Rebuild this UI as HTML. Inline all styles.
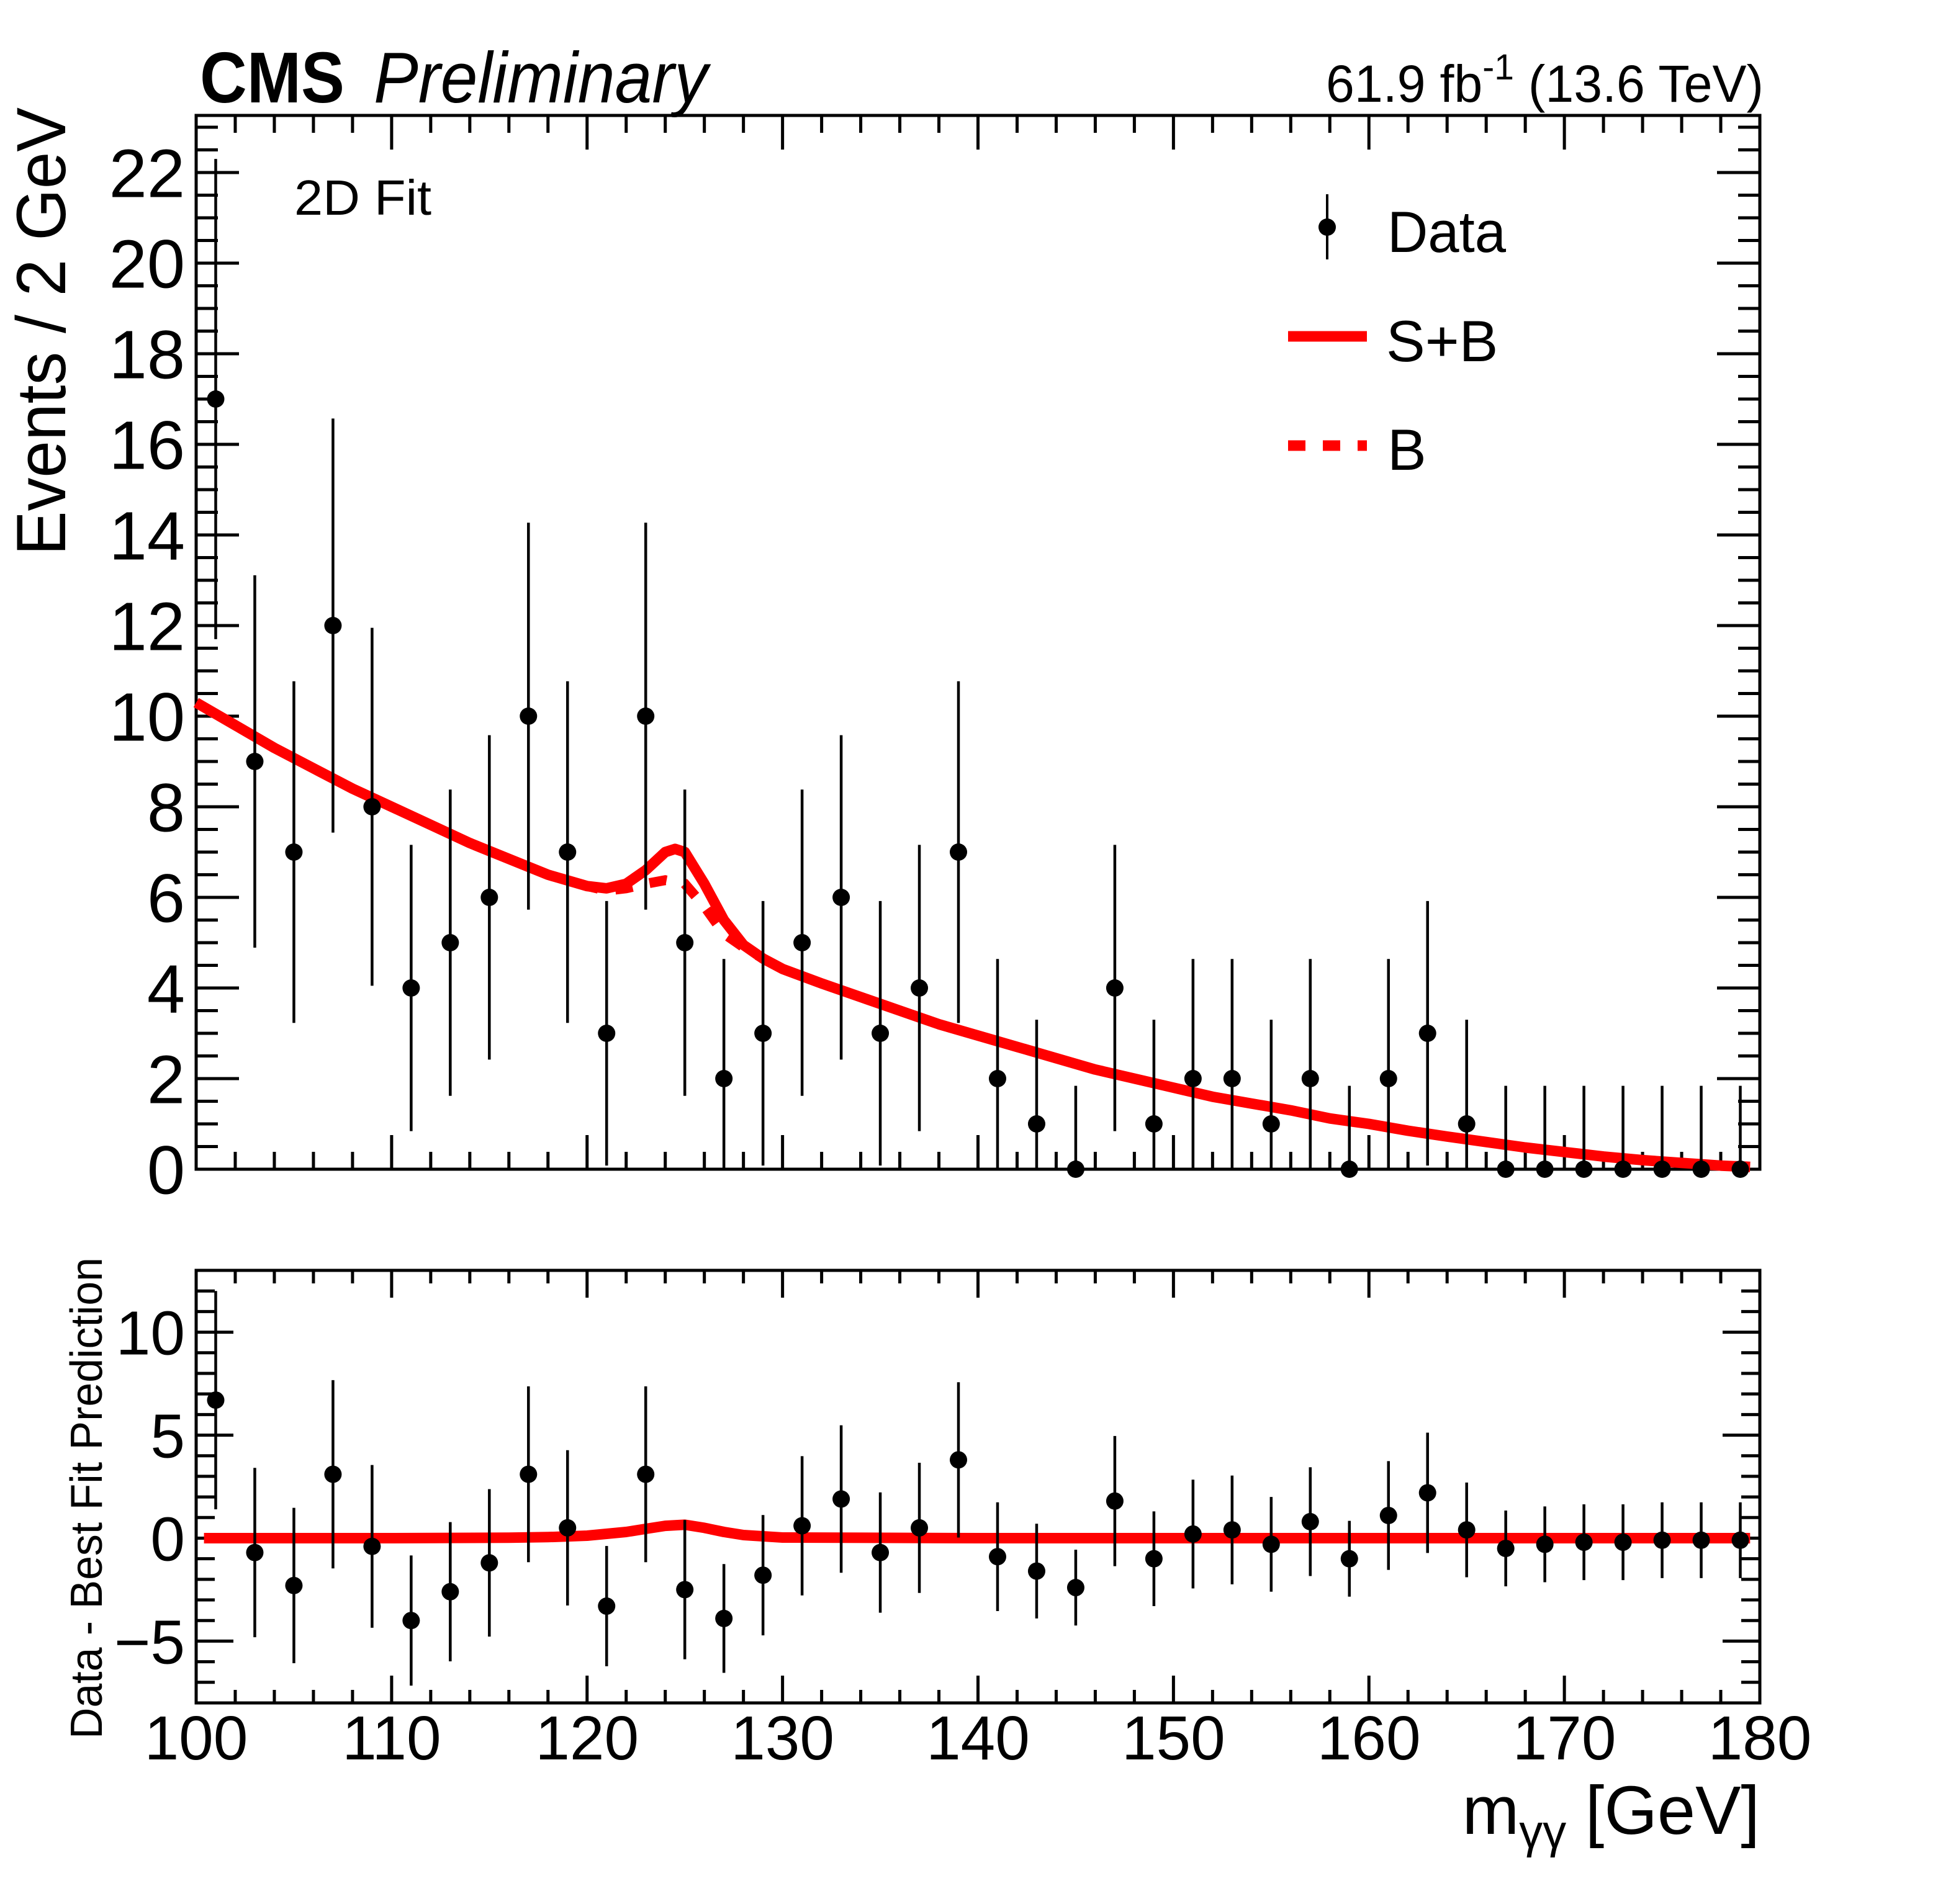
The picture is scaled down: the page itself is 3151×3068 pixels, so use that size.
<!DOCTYPE html>
<html><head><meta charset="utf-8"><style>
html,body{margin:0;padding:0;background:#fff;}
svg{display:block;}
text{font-family:"Liberation Sans",Arial,sans-serif;fill:#000;}
</style></head><body>
<svg id="chart" xmlns="http://www.w3.org/2000/svg" width="3151" height="3068" viewBox="0 0 3151 3068">
<rect x="0" y="0" width="3151" height="3068" fill="#fff"/>
<g id="main-panel"></g>
<g id="ratio-panel"></g>
<text x="322" y="165" font-size="116" font-weight="bold" textLength="233" lengthAdjust="spacingAndGlyphs">CMS</text>
<text x="602" y="165" font-size="116" font-style="italic" textLength="538" lengthAdjust="spacingAndGlyphs">Preliminary</text>
<text x="2136" y="164" font-size="84" textLength="705" lengthAdjust="spacingAndGlyphs">61.9 fb<tspan dy="-36" font-size="58">-1</tspan><tspan dy="36"> (13.6 TeV)</tspan></text>
<text x="474" y="346" font-size="80" textLength="221" lengthAdjust="spacingAndGlyphs">2D Fit</text>
<g>
  <line x1="2138" y1="313" x2="2138" y2="418" stroke="#000" stroke-width="4"/>
  <circle cx="2138" cy="366" r="14" fill="#000"/>
  <text x="2235" y="406" font-size="94" textLength="191" lengthAdjust="spacingAndGlyphs">Data</text>
  <line x1="2075" y1="542" x2="2202" y2="542" stroke="#f00" stroke-width="17"/>
  <text x="2233" y="582" font-size="94">S+B</text>
  <line x1="2075" y1="718" x2="2202" y2="718" stroke="#f00" stroke-width="17" stroke-dasharray="28,28"/>
  <text x="2235" y="757" font-size="94">B</text>
</g>
<text transform="translate(105,895) rotate(-90)" x="0" y="0" font-size="112" textLength="722" lengthAdjust="spacingAndGlyphs">Events / 2 GeV</text>
<text transform="translate(164,2802) rotate(-90)" x="0" y="0" font-size="72" textLength="776" lengthAdjust="spacingAndGlyphs">Data - Best Fit Prediction</text>
<text x="2835" y="2955" font-size="110" text-anchor="end">m<tspan font-size="76" dy="22">γγ</tspan><tspan dy="-22"> [GeV]</tspan></text>
</svg>
<script>
var binCenters=[101,103,105,107,109,111,113,115,117,119,121,123,125,127,129,131,133,135,137,139,141,143,145,147,149,151,153,155,157,159,161,163,165,167,169,171,173,175,177,179];
var counts=[17,9,7,12,8,4,5,6,10,7,3,10,5,2,3,5,6,3,4,7,2,1,0,4,1,2,2,1,2,0,2,3,1,0,0,0,0,0,0,0];
var errUp=[5.3,4.11,3.77,4.57,3.95,3.16,3.38,3.58,4.27,3.77,2.92,4.27,3.38,2.64,2.92,3.38,3.58,2.92,3.16,3.77,2.64,2.3,1.84,3.16,2.3,2.64,2.64,2.3,2.64,1.84,2.64,2.92,2.3,1.84,1.84,1.84,1.84,1.84,1.84,1.84];
var residuals=[6.7,-0.7,-2.3,3.1,-0.4,-4.0,-2.6,-1.2,3.1,0.5,-3.3,3.1,-2.5,-3.9,-1.8,0.6,1.9,-0.7,0.5,3.8,-0.9,-1.6,-2.4,1.8,-1.0,0.2,0.4,-0.3,0.8,-1.0,1.1,2.2,0.4,-0.5,-0.3,-0.2,-0.2,-0.1,-0.1,-0.1];
var sbX=[100,102,104,106,108,110,112,114,116,118,120,121,122,123,124,124.5,125,126,127,128,129,130,132,134,136,138,140,142,144,146,148,150,152,154,156,158,160,162,164,166,168,170,172,174,176,178,179.5];
var sbY=[10.3,9.8,9.3,8.85,8.4,8.0,7.6,7.2,6.85,6.5,6.25,6.2,6.3,6.6,7.0,7.07,7.0,6.3,5.5,4.95,4.65,4.42,4.1,3.8,3.5,3.2,2.95,2.7,2.45,2.2,2.0,1.8,1.6,1.45,1.3,1.12,1.0,0.85,0.72,0.6,0.48,0.38,0.28,0.2,0.14,0.08,0.05];
var bX=[118,120,121,122,123,124,125,126,127,128,129,130];
var bY=[6.5,6.25,6.15,6.2,6.3,6.38,6.3,5.8,5.2,4.9,4.65,4.42];
var ratioCurveX=[100.4,110,116,118,120,122,123,124,125,126,127,128,130,140,179.5];
var ratioCurveY=[0,0,0.02,0.05,0.12,0.3,0.45,0.6,0.65,0.5,0.3,0.15,0.03,0,0];
var xTicks=[100,110,120,130,140,150,160,170,180];
var yTicksMain=[0,2,4,6,8,10,12,14,16,18,20,22];
var yTicksRatio=[-5,0,5,10];

var NS="http://www.w3.org/2000/svg";
var XL=316,XR=2835,MT=186,MB=1884,RT=2047,RB=2744;
var XMIN=100,XMAX=180,YMAX=(MB-MT)/73,RMIN=-8,RMAX=13;
function xs(v){return XL+(v-XMIN)*(XR-XL)/(XMAX-XMIN);}
function ys(v){return MB-v*(MB-MT)/YMAX;}
function yr(v){return RB-(v-RMIN)*(RB-RT)/(RMAX-RMIN);}
function mk(tag,attrs,parent){var e=document.createElementNS(NS,tag);for(var k in attrs)e.setAttribute(k,attrs[k]);parent.appendChild(e);return e;}
var main=document.getElementById('main-panel');
var ratio=document.getElementById('ratio-panel');

function drawFrame(g,top,bot,ymin,ymax,yscale,major,minor,xMajLen,xMinLen,yMajLen,yMinLen,labels,labelSize,nameP){
  var f=mk('rect',{x:XL,y:top,width:XR-XL,height:bot-top,fill:'none',stroke:'#000','stroke-width':5},g);
  
  
  var d='';
  for(var v=XMIN;v<=XMAX+0.001;v+=2){
    var isMaj=Math.abs(v%10)<0.001; var L=isMaj?xMajLen:xMinLen; var x=xs(v);
    d+='M'+x+' '+bot+'V'+(bot-L)+'M'+x+' '+top+'V'+(top+L);
  }
  for(var w=Math.ceil(ymin/minor)*minor;w<=ymax+0.0001;w+=minor){
    var isM=Math.abs(Math.round(w/major)*major-w)<0.001; var L2=isM?yMajLen:yMinLen; var y=yscale(w);
    d+='M'+XL+' '+y+'H'+(XL+L2)+'M'+XR+' '+y+'H'+(XR-L2);
  }
  var t=mk('path',{d:d,stroke:'#000','stroke-width':5,fill:'none'},g);
  
  
  labels.forEach(function(v){
    var tx=mk('text',{x:298,y:yscale(v)+labelSize*0.36,'font-size':labelSize,'text-anchor':'end'},g);
    
    
    tx.textContent=(v<0?'\u2212'+(-v):String(v));
  });
}
drawFrame(main,MT,MB,0,YMAX,ys,2,0.5,55,28,69,35,yTicksMain,110,'main');
drawFrame(ratio,RT,RB,RMIN,RMAX,yr,5,1,44,21,60,30,yTicksRatio,100,'ratio');
xTicks.forEach(function(v){
  var tx=mk('text',{x:xs(v),y:2835,'font-size':100,'text-anchor':'middle'},ratio);
  
  
  tx.textContent=String(v);
});

function pathFrom(xa,ya,sc){var d='';for(var i=0;i<xa.length;i++){d+=(i?'L':'M')+xs(xa[i]).toFixed(1)+' '+sc(ya[i]).toFixed(1);}return d;}
var bCurve=mk('path',{d:pathFrom(bX,bY,ys),stroke:'#f00','stroke-width':16,fill:'none','stroke-dasharray':'28,28'},main);


var sbCurve=mk('path',{d:pathFrom(sbX,sbY,ys),stroke:'#f00','stroke-width':17,fill:'none','stroke-linejoin':'round'},main);


var rCurve=mk('path',{d:pathFrom(ratioCurveX,ratioCurveY,yr),stroke:'#f00','stroke-width':17,fill:'none','stroke-linejoin':'round'},ratio);



binCenters.forEach(function(c,i){
  var n=counts[i],e=errUp[i],x=xs(c);
  var lo=Math.max(0,n-e),hi=Math.min(YMAX,n+e);
  var bar=mk('line',{x1:x,x2:x,y1:ys(lo),y2:ys(hi),stroke:'#000','stroke-width':4.5},main);
  
  
  var p=mk('circle',{cx:x,cy:ys(n),r:14,fill:'#000'},main);
  
  
  var r=residuals[i];
  var rb=mk('line',{x1:x,x2:x,y1:yr(Math.max(RMIN,r-e)),y2:yr(Math.min(RMAX,r+e)),stroke:'#000','stroke-width':4.5},ratio);
  
  
  var rp=mk('circle',{cx:x,cy:yr(r),r:14,fill:'#000'},ratio);
  
  
});
</script>
</body></html>
